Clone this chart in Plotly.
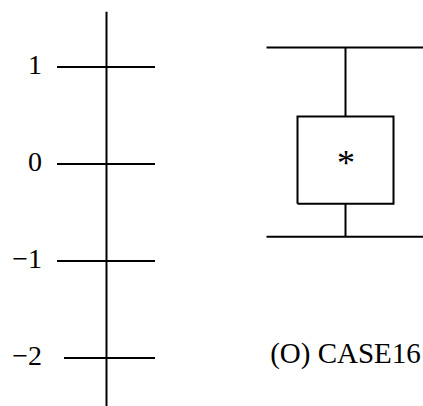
import plotly.graph_objects as go

# ---- data ----
tick_values = [1, 0, -1, -2]
tick_labels = ["1", "0", "\u22121", "\u22122"]
axis_top = 1.57
axis_bottom = -2.6

case_label = "(O) CASE16"
case_label_y = -1.98
whisker_high = [1.2]
q3 = [0.49]
mean = [0.06]
q1 = [-0.41]
whisker_low = [-0.75]

# ---- layout constants (pixel-like x coordinates) ----
AX_X = 106.5
TICK_L = [57, 57, 57, 64]
TICK_R = 155
LABEL_X = 42
BOX_X = 345.5
BOX_HALF = 48
CAP_HALF = 79
FONT = "Liberation Serif, Times New Roman, serif"
LW = 2
PX_PER_UNIT = 97
ZERO_Y = 164
W, H = 423, 406

fig = go.Figure()

# left scale axis
fig.add_trace(go.Scatter(x=[AX_X, AX_X], y=[axis_top, axis_bottom], mode="lines",
                         line=dict(color="black", width=LW), hoverinfo="skip"))
for v, xl in zip(tick_values, TICK_L):
    fig.add_trace(go.Scatter(x=[xl, TICK_R], y=[v, v], mode="lines",
                             line=dict(color="black", width=LW), hoverinfo="skip"))
fig.add_trace(go.Scatter(x=[LABEL_X] * len(tick_values), y=tick_values, mode="text",
                         text=tick_labels, textposition="middle left",
                         textfont=dict(family=FONT, size=28, color="black"), hoverinfo="skip"))

# box
bx0, bx1 = BOX_X - BOX_HALF, BOX_X + BOX_HALF
fig.add_trace(go.Scatter(x=[bx0, bx1, bx1, bx0, bx0], y=[q1[0], q1[0], q3[0], q3[0], q1[0]],
                         mode="lines", line=dict(color="black", width=LW), hoverinfo="skip"))
# whiskers
fig.add_trace(go.Scatter(x=[BOX_X, BOX_X], y=[q3[0], whisker_high[0]], mode="lines",
                         line=dict(color="black", width=LW), hoverinfo="skip"))
fig.add_trace(go.Scatter(x=[BOX_X, BOX_X], y=[q1[0], whisker_low[0]], mode="lines",
                         line=dict(color="black", width=LW), hoverinfo="skip"))
for w in (whisker_high[0], whisker_low[0]):
    fig.add_trace(go.Scatter(x=[BOX_X - CAP_HALF, BOX_X + CAP_HALF], y=[w, w], mode="lines",
                             line=dict(color="black", width=LW), hoverinfo="skip"))
# mean asterisk (glyph sits high in its line box, so shift it down onto the value)
fig.add_annotation(x=BOX_X, y=mean[0], text="*", showarrow=False, yshift=-5,
                   xanchor="center", yanchor="middle",
                   font=dict(family=FONT, size=36, color="black"))
# case label
fig.add_trace(go.Scatter(x=[BOX_X], y=[case_label_y], mode="text", text=[case_label],
                         textposition="middle center", cliponaxis=False,
                         textfont=dict(family=FONT, size=29, color="black"), hoverinfo="skip"))

fig.update_layout(
    width=W, height=H, margin=dict(l=0, r=0, t=0, b=0),
    paper_bgcolor="white", plot_bgcolor="white", showlegend=False,
    xaxis=dict(range=[0, W], visible=False, fixedrange=True),
    yaxis=dict(range=[(ZERO_Y - H) / PX_PER_UNIT, ZERO_Y / PX_PER_UNIT],
               visible=False, fixedrange=True),
)
fig.write_html(
    "out.html",
    config={"displayModeBar": False, "responsive": False},
    post_script="document.body.style.margin='0';document.body.style.overflow='hidden';",
)
